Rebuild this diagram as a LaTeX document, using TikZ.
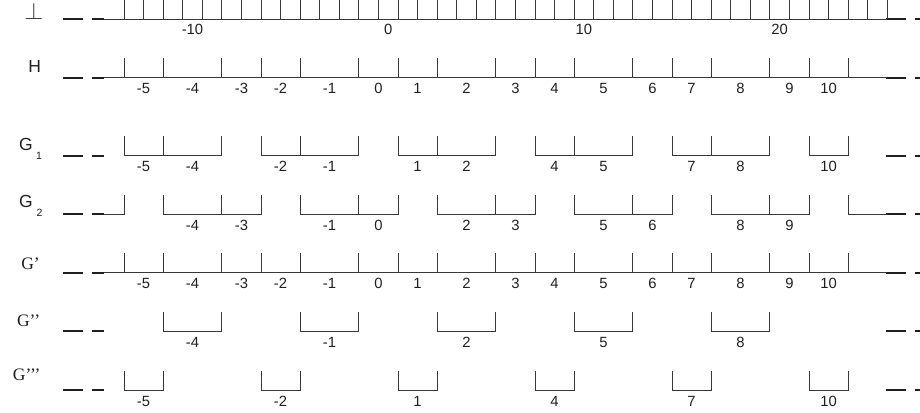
\documentclass[tikz,border=0pt]{standalone}
\usepackage{fontspec}
\setmainfont{Liberation Sans}
\newfontfamily\timesfam{Liberation Serif}
\def\B{{124,163.14,221.85,260.99,300.13,358.84,397.98,437.12,495.83,534.97,574.11,632.82,671.96,711.10,769.81,808.95,848.09}}
\def\TL{19.3}
\newcommand\scalebracket[3]{%
  \pgfmathsetmacro\xa{\B[#2]}%
  \pgfmathsetmacro\xb{\B[#3]}%
  \draw[scaleline] (\xa,#1-\TL) -- (\xa,#1) -- (\xb,#1) -- (\xb,#1-\TL);%
  \pgfmathtruncatemacro\ja{#2+1}%
  \pgfmathtruncatemacro\jb{#3-1}%
  \ifnum\ja>\jb\relax\else
    \foreach \j in {\ja,...,\jb}{\pgfmathsetmacro\xj{\B[\j]}\draw[scaleline] (\xj,#1) -- (\xj,#1-\TL);}%
  \fi}
\newcommand\intlabel[3]{%
  \pgfmathtruncatemacro\jj{#2+5}%
  \pgfmathtruncatemacro\jk{#2+6}%
  \pgfmathsetmacro\xl{\B[\jj]}%
  \pgfmathsetmacro\xr{\B[\jk]}%
  \pgfmathsetmacro\xc{(\xl+\xr)/2}%
  \node[num] (#3) at (\xc,#1+16) {#2};}
\newcommand\fullrow[2]{% y, prefix
  \draw[scaleline] (104.3,#1) -- (887.2,#1);
  \foreach \j in {0,...,16}{\pgfmathsetmacro\xj{\B[\j]}\draw[scaleline] (\xj,#1) -- (\xj,#1-\TL);}
  \foreach \i [count=\c] in {-5,...,10}{\intlabel{#1}{\i}{#2\c}}}
\begin{document}
\begin{tikzpicture}[x=1pt,y=-1pt,
  scaleline/.style={line width=0.9pt,draw=black!78},
  heavy/.style={line width=1.8pt,draw=black!88},
  num/.style={font=\fontsize{14.8}{14.8}\selectfont,anchor=base,inner sep=0pt,text=black!88},
  lab/.style={font=\fontsize{17.5}{17.5}\selectfont,anchor=base,inner sep=0pt,text=black!88},
  sublab/.style={font=\fontsize{10.5}{10.5}\selectfont,anchor=base,inner sep=0pt,text=black!88},
  tlab/.style={font=\timesfam\fontsize{17.5}{17.5}\selectfont,anchor=base east,inner sep=0pt,text=black!88}]
\useasboundingbox (0,0) rectangle (920,412);
\clip (0,0) rectangle (920,412);

% side dashes
\foreach \y in {19,77.7,155.7,214,272.7,331,390}{
  \draw[heavy] (63,\y) -- (83,\y) (92.3,\y) -- (104.3,\y) (886,\y) -- (906,\y) (915,\y) -- (935,\y);}

% row labels
\node[anchor=base,inner sep=0pt,text=black!80] (lperp) at (33.8,19.4) {\resizebox{19pt}{16.5pt}{$\perp$}};
\node[lab] (lH) at (34.7,72.7) {H};
\node[lab] (lG1) at (26,150.7) {G};
\node[sublab] (lG1s) at (39,159.3) {1};
\node[lab] (lG2) at (26,207.3) {G};
\node[sublab] (lG2s) at (39.5,216) {2};
\node[tlab] (lGp) at (40,269) {G’};
\node[tlab] (lGpp) at (40.3,326.7) {G’’};
\node[tlab] (lGppp) at (40.6,380) {G’’’};

% top scale
\draw[scaleline] (104.3,19) -- (887.2,19);
\foreach \k in {0,...,39}{\draw[scaleline] ({124+19.57*\k},19) -- ({124+19.57*\k},-2);}
\foreach \n [count=\c] in {-10,0,10,20}{\node[num] (t\c) at ({124+19.57*(13.5+\n)},34.5) {\n};}

% H and G'
\fullrow{77.7}{h}
\fullrow{272.7}{gp}

% G1
\foreach \a/\b in {0/2,3/5,6/8,9/11,12/14,15/16}{\scalebracket{155.7}{\a}{\b}}
\foreach \i [count=\c] in {-5,-4,-2,-1,1,2,4,5,7,8,10}{\intlabel{155.7}{\i}{ga\c}}

% G2
\draw[scaleline] (104.3,214) -- (124,214) -- (124,214-\TL);
\foreach \a/\b in {1/3,4/6,7/9,10/12,13/15}{\scalebracket{214}{\a}{\b}}
\draw[scaleline] (848.09,214-\TL) -- (848.09,214) -- (887.2,214);
\foreach \i [count=\c] in {-4,-3,-1,0,2,3,5,6,8,9}{\intlabel{214}{\i}{gb\c}}

% G''
\foreach \a/\b in {1/2,4/5,7/8,10/11,13/14}{\scalebracket{331}{\a}{\b}}
\foreach \i [count=\c] in {-4,-1,2,5,8}{\intlabel{331}{\i}{gpp\c}}

% G'''
\foreach \a/\b in {0/1,3/4,6/7,9/10,12/13,15/16}{\scalebracket{390}{\a}{\b}}
\foreach \i [count=\c] in {-5,-2,1,4,7,10}{\intlabel{390}{\i}{gppp\c}}
\end{tikzpicture}
\end{document}
